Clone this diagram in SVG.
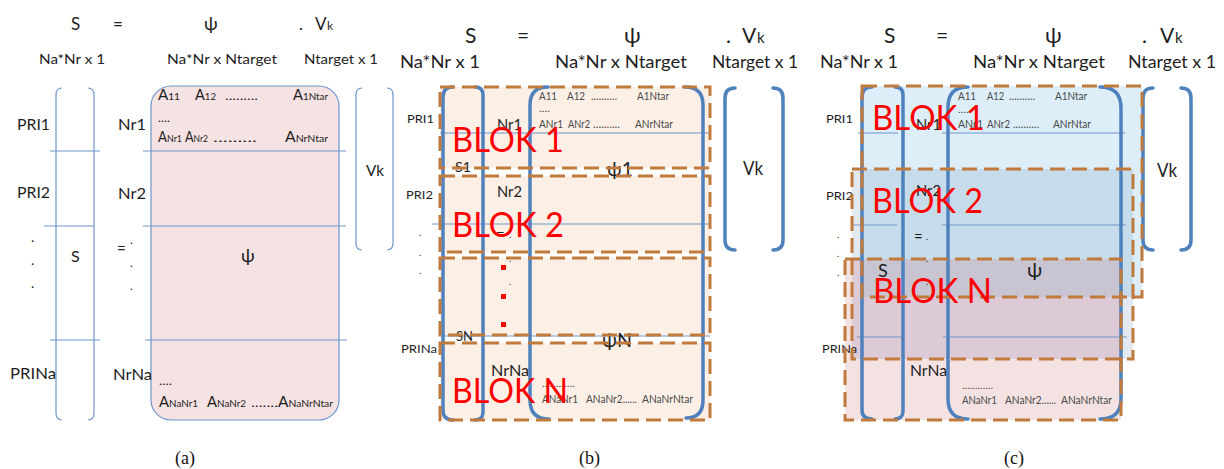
<svg xmlns="http://www.w3.org/2000/svg" width="1224" height="469" viewBox="0 0 1224 469">
<style>
.t{font-family:Lato,"Liberation Sans",sans-serif;fill:#1e1e1e}
.g{font-family:Lato,"Liberation Sans",sans-serif;fill:#4a4a4a}
.cap{font-family:"Liberation Serif",serif;font-size:18px;fill:#111}
.thin{stroke:#6f95cc;stroke-width:1.2;fill:none}
.mat{stroke:#6f95cc;stroke-width:1.2;fill:#f5e2e2}
.thick{stroke:#4f81bd;stroke-width:3.5;fill:none;stroke-linecap:round}
.dash{stroke:#c07a3c;stroke-width:3;fill:none;stroke-dasharray:15 7}
.blok{font-family:Lato,"Liberation Sans",sans-serif;font-size:35px;fill:#ff0000}
.rd{fill:#ff0000}
</style>
<rect width="1224" height="469" fill="#ffffff"/>

<!-- ================= PANEL (a) ================= -->
<g id="panel-a">
  <g id="a-title">
    <text class="t" x="71" y="30" font-size="17">S</text>
    <text class="t" x="113" y="30" font-size="17">=</text>
    <text class="t" x="204" y="30" font-size="18">ψ</text>
    <text class="t" x="299" y="30" font-size="17">.</text>
    <text class="t" x="315" y="30" font-size="17">V</text>
    <text class="t" x="327" y="30" font-size="12">k</text>
    <text class="t" x="39" y="64" font-size="14" textLength="66" lengthAdjust="spacingAndGlyphs">Na*Nr x 1</text>
    <text class="t" x="167" y="64" font-size="14" textLength="110" lengthAdjust="spacingAndGlyphs">Na*Nr x Ntarget</text>
    <text class="t" x="304" y="64" font-size="14" textLength="74" lengthAdjust="spacingAndGlyphs">Ntarget x 1</text>
  </g>
  <g id="a-psi-matrix">
    <rect class="mat" x="151" y="86" width="188" height="334" rx="20"/>
    <text class="t" x="158" y="100" textLength="22" lengthAdjust="spacingAndGlyphs"><tspan font-size="15">A</tspan><tspan font-size="10">11</tspan></text>
    <text class="t" x="195" y="100" textLength="21" lengthAdjust="spacingAndGlyphs"><tspan font-size="15">A</tspan><tspan font-size="10">12</tspan></text>
    <text class="t" x="225" y="100" font-size="12" textLength="33" lengthAdjust="spacingAndGlyphs">.........</text>
    <text class="t" x="293" y="100" textLength="35" lengthAdjust="spacingAndGlyphs"><tspan font-size="15">A</tspan><tspan font-size="10">1Ntar</tspan></text>
    <text class="t" x="158" y="122" font-size="12" textLength="12" lengthAdjust="spacingAndGlyphs">....</text>
    <text class="t" x="158" y="142" textLength="24" lengthAdjust="spacingAndGlyphs"><tspan font-size="15">A</tspan><tspan font-size="10">Nr1</tspan></text>
    <text class="t" x="185" y="142" textLength="23" lengthAdjust="spacingAndGlyphs"><tspan font-size="15">A</tspan><tspan font-size="10">Nr2</tspan></text>
    <text class="t" x="213" y="142" font-size="12" textLength="44" lengthAdjust="spacingAndGlyphs"> .........</text>
    <text class="t" x="285" y="142" textLength="43" lengthAdjust="spacingAndGlyphs"><tspan font-size="15">A</tspan><tspan font-size="10">NrNtar</tspan></text>
    <text class="t" x="241" y="262" font-size="18">ψ</text>
    <text class="t" x="159" y="385" font-size="12" textLength="13" lengthAdjust="spacingAndGlyphs">....</text>
    <text class="t" x="159" y="407" textLength="39" lengthAdjust="spacingAndGlyphs"><tspan font-size="15">A</tspan><tspan font-size="10">NaNr1</tspan></text>
    <text class="t" x="207" y="407" textLength="39" lengthAdjust="spacingAndGlyphs"><tspan font-size="15">A</tspan><tspan font-size="10">NaNr2</tspan></text>
    <text class="t" x="251" y="407" font-size="12" textLength="27" lengthAdjust="spacingAndGlyphs">.......</text>
    <text class="t" x="278" y="407" textLength="55" lengthAdjust="spacingAndGlyphs"><tspan font-size="15">A</tspan><tspan font-size="10">NaNrNtar</tspan></text>
  </g>
  <g id="a-separators">
    <line class="thin" x1="50" y1="151" x2="100" y2="151"/>
    <line class="thin" x1="44" y1="226" x2="94" y2="226"/>
    <line class="thin" x1="50" y1="340" x2="100" y2="340"/>
    <line class="thin" x1="143" y1="151" x2="346" y2="151"/>
    <line class="thin" x1="143" y1="226" x2="346" y2="226"/>
    <line class="thin" x1="145" y1="340" x2="347" y2="340"/>
  </g>
  <g id="a-S-vector">
    <path class="thin" d="M62 88 Q56 88 56 95 L56 413 Q56 420 62 420"/>
    <path class="thin" d="M88 88 Q94 88 94 95 L94 413 Q94 420 88 420"/>
    <text class="t" x="71" y="262" font-size="16">S</text>
  </g>
  <g id="a-row-labels">
    <text class="t" x="17" y="130" font-size="16" textLength="33" lengthAdjust="spacingAndGlyphs">PRI1</text>
    <text class="t" x="17" y="198" font-size="16" textLength="33" lengthAdjust="spacingAndGlyphs">PRI2</text>
    <text class="t" x="31" y="242" font-size="14">.</text>
    <text class="t" x="31" y="265" font-size="14">.</text>
    <text class="t" x="31" y="288" font-size="14">.</text>
    <text class="t" x="10" y="379" font-size="16" textLength="46" lengthAdjust="spacingAndGlyphs">PRINa</text>
    <text class="t" x="118" y="130" font-size="16" textLength="28" lengthAdjust="spacingAndGlyphs">Nr1</text>
    <text class="t" x="118" y="199" font-size="16" textLength="28" lengthAdjust="spacingAndGlyphs">Nr2</text>
    <text class="t" x="117" y="254" font-size="15">=</text>
    <text class="t" x="130" y="244" font-size="12">.</text>
    <text class="t" x="130" y="267" font-size="12">.</text>
    <text class="t" x="130" y="290" font-size="12">.</text>
    <text class="t" x="113" y="380" font-size="16" textLength="39" lengthAdjust="spacingAndGlyphs">NrNa</text>
  </g>
  <g id="a-Vk-vector">
    <path class="thin" d="M362 88 Q356 88 356 95 L356 243 Q356 250 362 250"/>
    <path class="thin" d="M387 88 Q393 88 393 95 L393 243 Q393 250 387 250"/>
    <text class="t" x="366" y="176" font-size="15" textLength="18" lengthAdjust="spacingAndGlyphs">Vk</text>
  </g>
  <text id="caption-a" class="cap" x="175" y="464">(a)</text>
</g>

<!-- ================= PANEL (b) ================= -->
<g id="panel-b">
  <g id="b-title">
    <text class="t" x="465" y="43" font-size="21">S</text>
    <text class="t" x="517" y="43" font-size="21">=</text>
    <text class="t" x="624" y="43" font-size="22">ψ</text>
    <text class="t" x="726" y="43" font-size="21">.</text>
    <text class="t" x="742" y="43" font-size="21">V</text>
    <text class="t" x="757" y="43" font-size="15">k</text>
    <text class="t" x="400" y="68" font-size="17" textLength="80" lengthAdjust="spacingAndGlyphs">Na*Nr x 1</text>
    <text class="t" x="555" y="68" font-size="17" textLength="132" lengthAdjust="spacingAndGlyphs">Na*Nr x Ntarget</text>
    <text class="t" x="712" y="68" font-size="17" textLength="86" lengthAdjust="spacingAndGlyphs">Ntarget x 1</text>
  </g>
  <g id="b-block-fills">
    <rect x="440" y="87" width="270" height="81" fill="#fcefe6"/>
    <rect x="440" y="176" width="270" height="76" fill="#fcefe6"/>
    <rect x="440" y="258" width="270" height="77" fill="#fcefe6"/>
    <rect x="440" y="343" width="270" height="77" fill="#fcefe6"/>
  </g>
  <g id="b-separators">
    <line class="thin" x1="440" y1="133" x2="709" y2="133"/>
    <line class="thin" x1="432" y1="224" x2="709" y2="224"/>
    <line class="thin" x1="443" y1="336" x2="710" y2="336"/>
  </g>
  <g id="b-S-vector">
    <path class="thick" d="M453 87 Q443 87 443 97 L443 410 Q443 420 453 420"/>
    <path class="thick" d="M475 87 Q483 87 483 95 L483 412 Q483 420 475 420"/>
    <text class="t" x="455" y="172" font-size="13" textLength="16" lengthAdjust="spacingAndGlyphs">S1</text>
    <text class="t" x="456" y="341" font-size="13" textLength="17" lengthAdjust="spacingAndGlyphs">SN</text>
  </g>
  <g id="b-psi-matrix">
    <path class="thick" d="M548 87 Q530 87 530 105 L530 400 Q530 419 549 419"/>
    <path class="thick" d="M685 87 Q703 87 703 105 L703 400 Q703 418 686 418"/>
    <text class="g" x="539" y="100" font-size="11" textLength="18" lengthAdjust="spacingAndGlyphs">A11</text>
    <text class="g" x="567" y="100" font-size="11" textLength="18" lengthAdjust="spacingAndGlyphs">A12</text>
    <text class="g" x="591" y="100" font-size="11" textLength="26" lengthAdjust="spacingAndGlyphs">..........</text>
    <text class="g" x="637" y="100" font-size="11" textLength="32" lengthAdjust="spacingAndGlyphs">A1Ntar</text>
    <text class="g" x="539" y="112" font-size="9" textLength="11" lengthAdjust="spacingAndGlyphs">....</text>
    <text class="g" x="539" y="128" font-size="11" textLength="24" lengthAdjust="spacingAndGlyphs">ANr1</text>
    <text class="g" x="568" y="128" font-size="11" textLength="22" lengthAdjust="spacingAndGlyphs">ANr2</text>
    <text class="g" x="593" y="128" font-size="11" textLength="27" lengthAdjust="spacingAndGlyphs">..........</text>
    <text class="g" x="635" y="128" font-size="11" textLength="38" lengthAdjust="spacingAndGlyphs">ANrNtar</text>
    <text class="t" x="607" y="176" font-size="20" textLength="26" lengthAdjust="spacingAndGlyphs">ψ1</text>
    <text class="t" x="602" y="347" font-size="20" textLength="30" lengthAdjust="spacingAndGlyphs">ψN</text>
    <text class="g" x="542" y="387" font-size="9" textLength="33" lengthAdjust="spacingAndGlyphs">............</text>
    <text class="g" x="542" y="403" font-size="11" textLength="36" lengthAdjust="spacingAndGlyphs">ANaNr1</text>
    <text class="g" x="586" y="403" font-size="11" textLength="51" lengthAdjust="spacingAndGlyphs">ANaNr2......</text>
    <text class="g" x="642" y="403" font-size="11" textLength="51" lengthAdjust="spacingAndGlyphs">ANaNrNtar</text>
  </g>
  <g id="b-row-labels">
    <text class="t" x="407" y="123" font-size="12" textLength="27" lengthAdjust="spacingAndGlyphs">PRI1</text>
    <text class="t" x="406" y="199" font-size="12" textLength="27" lengthAdjust="spacingAndGlyphs">PRI2</text>
    <text class="t" x="419" y="236" font-size="10">.</text>
    <text class="t" x="419" y="256" font-size="10">.</text>
    <text class="t" x="419" y="274" font-size="10">.</text>
    <text class="t" x="401" y="353" font-size="12" textLength="36" lengthAdjust="spacingAndGlyphs">PRINa</text>
    <text class="t" x="497" y="130" font-size="16" textLength="25" lengthAdjust="spacingAndGlyphs">Nr1</text>
    <text class="t" x="497" y="197" font-size="16" textLength="25" lengthAdjust="spacingAndGlyphs">Nr2</text>
    <text class="t" x="496" y="240" font-size="15">=</text>
    <text class="t" x="509" y="238" font-size="9">.</text>
    <text class="t" x="509" y="262" font-size="9">.</text>
    <text class="t" x="509" y="285" font-size="9">.</text>
    <rect class="rd" x="501" y="265" width="5" height="5"/>
    <rect class="rd" x="501" y="294" width="5" height="5"/>
    <rect class="rd" x="501" y="322" width="5" height="5"/>
    <text class="t" x="491" y="376" font-size="16" textLength="38" lengthAdjust="spacingAndGlyphs">NrNa</text>
  </g>
  <g id="b-Vk-vector">
    <path class="thick" d="M735 88 Q725 88 725 98 L725 240 Q725 250 735 250"/>
    <path class="thick" d="M773 88 Q783 88 783 98 L783 240 Q783 250 773 250"/>
    <text class="t" x="743" y="175" font-size="19" textLength="20" lengthAdjust="spacingAndGlyphs">Vk</text>
  </g>
  <g id="b-blocks">
    <rect class="dash" x="440" y="87" width="270" height="81"/>
    <rect class="dash" x="440" y="176" width="270" height="76"/>
    <rect class="dash" x="440" y="258" width="270" height="77"/>
    <rect class="dash" x="440" y="343" width="270" height="77"/>
    <text class="blok" x="452" y="152" textLength="112" lengthAdjust="spacingAndGlyphs">BLOK 1</text>
    <text class="blok" x="452" y="237" textLength="112" lengthAdjust="spacingAndGlyphs">BLOK 2</text>
    <text class="blok" x="452" y="403" textLength="116" lengthAdjust="spacingAndGlyphs">BLOK N</text>
  </g>
  <text id="caption-b" class="cap" x="579" y="464">(b)</text>
</g>

<!-- ================= PANEL (c) ================= -->
<g id="panel-c">
  <g id="c-title">
    <text class="t" x="884" y="43" font-size="21">S</text>
    <text class="t" x="936" y="43" font-size="21">=</text>
    <text class="t" x="1045" y="43" font-size="22">ψ</text>
    <text class="t" x="1142" y="43" font-size="21">.</text>
    <text class="t" x="1160" y="43" font-size="21">V</text>
    <text class="t" x="1175" y="43" font-size="15">k</text>
    <text class="t" x="820" y="68" font-size="17" textLength="78" lengthAdjust="spacingAndGlyphs">Na*Nr x 1</text>
    <text class="t" x="973" y="68" font-size="17" textLength="132" lengthAdjust="spacingAndGlyphs">Na*Nr x Ntarget</text>
    <text class="t" x="1128" y="68" font-size="17" textLength="88" lengthAdjust="spacingAndGlyphs">Ntarget x 1</text>
  </g>
  <g id="c-block-fills">
    <rect x="862" y="86" width="280" height="211" fill="#ddeef8"/>
    <rect x="852" y="169" width="281" height="190" fill="#e2e9f1"/>
    <rect x="862" y="169" width="271" height="128" fill="#c7dcea"/>
    <rect x="845" y="259" width="276" height="161" fill="#f4e2e2"/>
    <rect x="852" y="259" width="269" height="100" fill="#dccbd6"/>
    <rect x="862" y="259" width="259" height="38" fill="#c8c4d2"/>
  </g>
  <g id="c-separators">
    <line class="thin" x1="858" y1="133" x2="898" y2="133"/>
    <line class="thin" x1="942" y1="133" x2="1125" y2="133"/>
    <line class="thin" x1="852" y1="225" x2="897" y2="225"/>
    <line class="thin" x1="942" y1="225" x2="1126" y2="225"/>
    <line class="thin" x1="857" y1="337" x2="902" y2="337"/>
    <line class="thin" x1="943" y1="337" x2="1127" y2="337"/>
  </g>
  <g id="c-S-vector">
    <path class="thick" d="M872 87 Q862 87 862 97 L862 410 Q862 419 872 419"/>
    <path class="thick" d="M895 87 Q903 87 903 95 L903 411 Q903 419 895 419"/>
    <text class="t" x="878" y="277" font-size="18">S</text>
  </g>
  <g id="c-psi-matrix">
    <path class="thick" d="M968 87 Q948 87 948 107 L948 399 Q948 419 968 419"/>
    <path class="thick" d="M1100 87 Q1121 87 1121 108 L1121 399 Q1121 419 1100 419"/>
    <text class="g" x="958" y="100" font-size="11" textLength="18" lengthAdjust="spacingAndGlyphs">A11</text>
    <text class="g" x="987" y="100" font-size="11" textLength="17" lengthAdjust="spacingAndGlyphs">A12</text>
    <text class="g" x="1009" y="100" font-size="11" textLength="26" lengthAdjust="spacingAndGlyphs">..........</text>
    <text class="g" x="1055" y="100" font-size="11" textLength="32" lengthAdjust="spacingAndGlyphs">A1Ntar</text>
    <text class="g" x="958" y="113" font-size="9" textLength="11" lengthAdjust="spacingAndGlyphs">....</text>
    <text class="g" x="958" y="128" font-size="11" textLength="25" lengthAdjust="spacingAndGlyphs">ANr1</text>
    <text class="g" x="987" y="128" font-size="11" textLength="23" lengthAdjust="spacingAndGlyphs">ANr2</text>
    <text class="g" x="1013" y="128" font-size="11" textLength="26" lengthAdjust="spacingAndGlyphs">..........</text>
    <text class="g" x="1053" y="128" font-size="11" textLength="38" lengthAdjust="spacingAndGlyphs">ANrNtar</text>
    <text class="t" x="1027" y="277" font-size="20">ψ</text>
    <text class="g" x="962" y="389" font-size="9" textLength="31" lengthAdjust="spacingAndGlyphs">............</text>
    <text class="g" x="962" y="404" font-size="11" textLength="35" lengthAdjust="spacingAndGlyphs">ANaNr1</text>
    <text class="g" x="1005" y="404" font-size="11" textLength="51" lengthAdjust="spacingAndGlyphs">ANaNr2......</text>
    <text class="g" x="1061" y="404" font-size="11" textLength="51" lengthAdjust="spacingAndGlyphs">ANaNrNtar</text>
  </g>
  <g id="c-row-labels">
    <text class="t" x="826" y="123" font-size="12" textLength="27" lengthAdjust="spacingAndGlyphs">PRI1</text>
    <text class="t" x="826" y="200" font-size="12" textLength="27" lengthAdjust="spacingAndGlyphs">PRI2</text>
    <text class="t" x="837" y="238" font-size="10">.</text>
    <text class="t" x="837" y="257" font-size="10">.</text>
    <text class="t" x="837" y="276" font-size="10">.</text>
    <text class="t" x="822" y="353" font-size="12" textLength="35" lengthAdjust="spacingAndGlyphs">PRINa</text>
    <text class="t" x="916" y="130" font-size="16" textLength="25" lengthAdjust="spacingAndGlyphs">Nr1</text>
    <text class="t" x="916" y="196" font-size="16" textLength="25" lengthAdjust="spacingAndGlyphs">Nr2</text>
    <text class="t" x="914" y="242" font-size="15">=</text>
    <text class="t" x="926" y="240" font-size="9">.</text>
    <text class="t" x="926" y="262" font-size="9">.</text>
    <text class="t" x="926" y="285" font-size="9">.</text>
    <text class="t" x="910" y="376" font-size="16" textLength="37" lengthAdjust="spacingAndGlyphs">NrNa</text>
  </g>
  <g id="c-Vk-vector">
    <path class="thick" d="M1153 88 Q1143 88 1143 98 L1143 240 Q1143 250 1153 250"/>
    <path class="thick" d="M1181 88 Q1191 88 1191 98 L1191 240 Q1191 250 1181 250"/>
    <text class="t" x="1157" y="177" font-size="19" textLength="20" lengthAdjust="spacingAndGlyphs">Vk</text>
  </g>
  <g id="c-blocks">
    <rect class="dash" x="862" y="86" width="280" height="211"/>
    <rect class="dash" x="852" y="169" width="281" height="190"/>
    <rect class="dash" x="845" y="259" width="276" height="161"/>
    <text class="blok" x="872" y="130" textLength="113" lengthAdjust="spacingAndGlyphs">BLOK 1</text>
    <text class="blok" x="872" y="213" textLength="111" lengthAdjust="spacingAndGlyphs">BLOK 2</text>
    <text class="blok" x="873" y="303" textLength="119" lengthAdjust="spacingAndGlyphs">BLOK N</text>
  </g>
  <text id="caption-c" class="cap" x="1004" y="464">(c)</text>
</g>

<g id="connectors"></g>
</svg>
